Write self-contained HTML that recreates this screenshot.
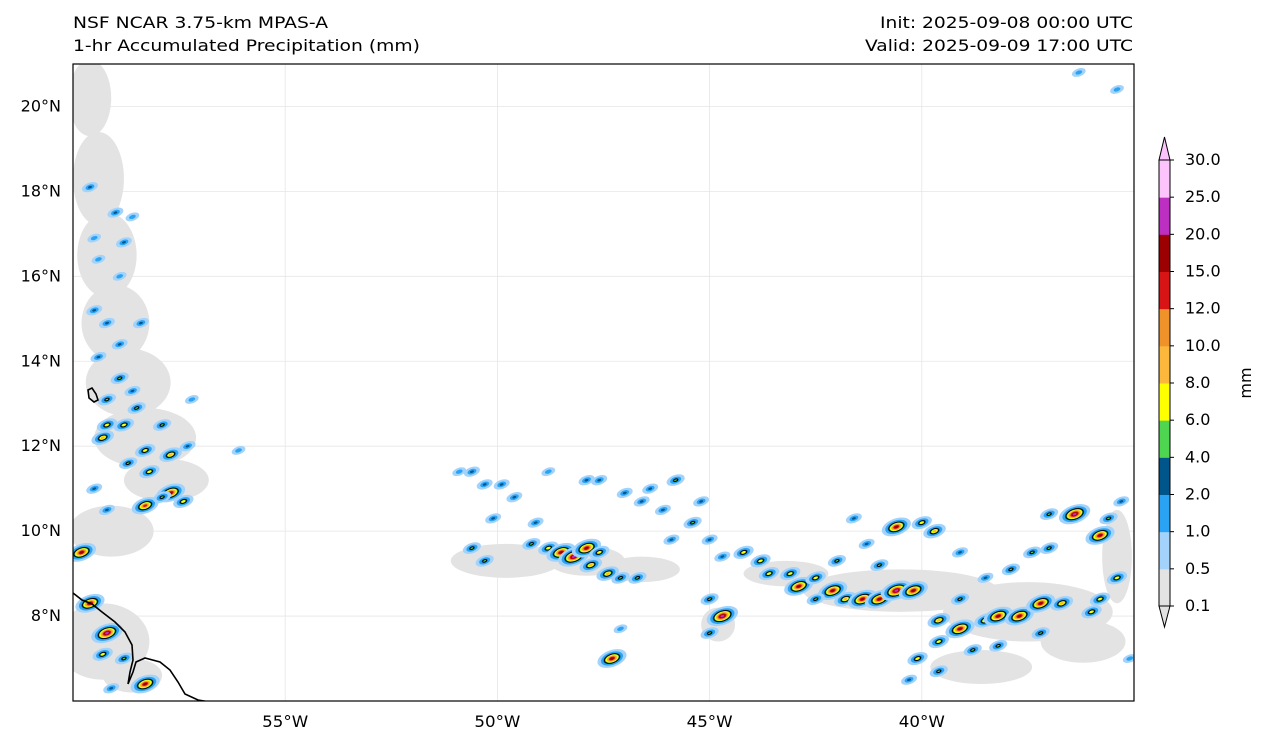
<!DOCTYPE html>
<html><head><meta charset="utf-8"><style>
body{margin:0;background:#fff;}
svg{display:block;font-family:"DejaVu Sans","Liberation Sans",sans-serif;}
</style></head><body>
<svg id="chart" width="1268" height="745">
<text x="73" y="28" font-size="16" textLength="255" lengthAdjust="spacingAndGlyphs">NSF NCAR 3.75-km MPAS-A</text>
<text x="73" y="51" font-size="16" textLength="347" lengthAdjust="spacingAndGlyphs">1-hr Accumulated Precipitation (mm)</text>
<text x="1133" y="28" font-size="16" text-anchor="end" textLength="253" lengthAdjust="spacingAndGlyphs">Init: 2025-09-08 00:00 UTC</text>
<text x="1133" y="51" font-size="16" text-anchor="end" textLength="268" lengthAdjust="spacingAndGlyphs">Valid: 2025-09-09 17:00 UTC</text>
<defs><clipPath id="mc"><rect x="73" y="64" width="1061" height="637"/></clipPath></defs>
<g id="grid"></g>
<g id="gray" clip-path="url(#mc)"></g>
<g id="cells" clip-path="url(#mc)"></g>
<g clip-path="url(#mc)">
<path d="M73,593 L82,600 L92,604 L102,612 L115,622 L125,632 L132,645 L133,660 L130,672 L128,684 L133,672 L136,662 L145,658 L160,662 L170,670 L178,682 L185,694 L198,700 L210,702" fill="none" stroke="#000" stroke-width="1.6"/>
<path d="M88,390 L92,388 L96,394 L98,400 L94,402 L89,398 Z" fill="none" stroke="#000" stroke-width="1.6"/>
</g>
<rect x="73" y="64" width="1061" height="637" fill="none" stroke="#000" stroke-width="1.2"/>
<g id="axes" font-size="16"></g>
<g id="cbar"></g>
<text x="1251" y="383" font-size="16" text-anchor="middle" transform="rotate(-90 1251 383)">mm</text>
</svg>
<script>
const lonTicks=[-55,-50,-45,-40];
const lonLabels=["55°W","50°W","45°W","40°W"];
const latTicks=[8,10,12,14,16,18,20];
const latLabels=["8°N","10°N","12°N","14°N","16°N","18°N","20°N"];
const levels=["0.1","0.5","1.0","2.0","4.0","6.0","8.0","10.0","12.0","15.0","20.0","25.0","30.0"];
const colors=["#e3e3e3","#a3d3fb","#2ba3f5","#00558a","#4fd651","#ffff00","#fbb83a","#f0922a","#d81414","#9c0000","#bd2fc0","#fdc3fd"];
const cellLon=[-59.6,-59.0,-59.5,-58.8,-58.6,-59.4,-58.9,-59.5,-59.2,-58.4,-58.9,-59.4,-58.9,-58.6,-59.2,-58.5,-59.2,-58.8,-57.9,-59.3,-58.3,-57.7,-58.7,-58.2,-57.3,-57.7,-57.4,-58.3,-57.9,-59.5,-59.2,-59.8,-59.6,-59.2,-59.3,-58.8,-58.3,-59.1,-56.1,-57.2,
-50.9,-50.6,-50.3,-49.9,-49.6,-50.1,-49.1,-50.6,-50.3,-49.2,-48.8,-48.5,-48.2,-47.9,-47.6,-47.8,-47.4,-47.1,-46.7,-48.8,-47.9,-47.6,-47.0,-46.6,-46.4,-45.8,-46.1,-45.4,-45.2,-45.0,-45.9,-44.7,-44.7,-45.0,-45.0,-47.3,-47.1,
-44.2,-43.8,-43.6,-43.1,-42.9,-42.5,-42.1,-41.8,-41.4,-41.0,-40.6,-40.2,-41.0,-40.6,-40.0,-39.7,-39.1,-39.1,-38.5,-37.9,-37.4,-37.0,-36.4,-37.0,-35.8,-35.6,-35.3,-35.4,-35.8,-39.6,-39.1,-38.5,-38.2,-37.7,-37.2,-36.7,-36.0,-39.6,-40.1,-38.8,-38.2,-37.2,-39.6,-40.3,-41.6,-41.3,-42.0,-42.5,-36.3,-35.4,-35.1];
const cellLat=[18.1,17.5,16.9,16.8,17.4,16.4,16.0,15.2,14.9,14.9,14.4,14.1,13.6,13.3,13.1,12.9,12.5,12.5,12.5,12.2,11.9,11.8,11.6,11.4,12.0,10.9,10.7,10.6,10.8,11.0,10.5,9.5,8.3,7.6,7.1,7.0,6.4,6.3,11.9,13.1,
11.4,11.4,11.1,11.1,10.8,10.3,10.2,9.6,9.3,9.7,9.6,9.5,9.4,9.6,9.5,9.2,9.0,8.9,8.9,11.4,11.2,11.2,10.9,10.7,11.0,11.2,10.5,10.2,10.7,9.8,9.8,9.4,8.0,7.6,8.4,7.0,7.7,
9.5,9.3,9.0,9.0,8.7,8.9,8.6,8.4,8.4,8.4,8.6,8.6,9.2,10.1,10.2,10.0,9.5,8.4,8.9,9.1,9.5,9.6,10.4,10.4,9.9,10.3,10.7,8.9,8.4,7.9,7.7,7.9,8.0,8.0,8.3,8.3,8.1,7.4,7.0,7.2,7.3,7.6,6.7,6.5,10.3,9.7,9.3,8.4,20.8,20.4,7.0];
const cellMax=[3,3,2,3,2,2,2,3,3,3,3,3,4,3,4,4,5,5,4,6,5,6,4,5,3,9,5,8,4,3,3,9,9,10,5,4,9,3,2,2,
2,3,3,3,3,3,3,4,4,4,5,9,10,9,5,6,6,4,4,2,3,3,3,3,3,4,3,4,3,3,3,3,10,4,4,9,2,
5,5,5,5,9,5,9,6,9,9,10,9,4,9,5,6,3,4,3,4,4,4,10,4,9,4,3,5,5,6,9,6,9,9,9,6,5,5,5,4,4,4,4,3,3,3,4,4,2,2,2];
const grayLon=[-59.6,-59.4,-59.2,-59.0,-58.7,-58.3,-57.8,-59.1,-59.3,-58.6,-49.8,-47.9,-46.6,-40.5,-37.5,-38.6,-35.4,-44.8,-43.2,-36.2];
const grayLat=[20.2,18.3,16.5,14.9,13.5,12.2,11.2,10.0,7.4,6.6,9.3,9.3,9.1,8.6,8.1,6.8,9.4,7.8,9.0,7.4];
const grayRx=[0.5,0.6,0.7,0.8,1.0,1.2,1.0,1.0,1.1,0.7,1.3,0.9,0.9,2.3,2.0,1.2,0.35,0.4,1.0,1.0];
const grayRy=[0.9,1.1,1.0,0.9,0.8,0.7,0.5,0.6,0.9,0.4,0.4,0.35,0.3,0.5,0.7,0.4,1.1,0.4,0.3,0.5];
const NS="http://www.w3.org/2000/svg";
const X0=73,Y0=64,W=1061,H=637,LON0=-60,LON1=-35,LAT0=6,LAT1=21;
function xs(lon){return X0+(lon-LON0)/(LON1-LON0)*W;}
function ys(lat){return Y0+(LAT1-lat)/(LAT1-LAT0)*H;}
const kx=W/(LON1-LON0),ky=H/(LAT1-LAT0);
function mk(tag,attrs,parent){const e=document.createElementNS(NS,tag);for(const k in attrs)e.setAttribute(k,attrs[k]);parent.appendChild(e);return e;}
const grid=document.getElementById('grid'),axes=document.getElementById('axes');
lonTicks.forEach((v,i)=>{
 const l=mk('line',{x1:xs(v),x2:xs(v),y1:Y0,y2:Y0+H,stroke:'#e6e6e6','stroke-width':0.8},grid);
 
 
 const t=mk('text',{x:xs(v),y:727,'text-anchor':'middle',textLength:46,lengthAdjust:'spacingAndGlyphs'},axes);t.textContent=lonLabels[i];
 
 
});
latTicks.forEach((v,i)=>{
 const l=mk('line',{x1:X0,x2:X0+W,y1:ys(v),y2:ys(v),stroke:'#e6e6e6','stroke-width':0.8},grid);
 
 
 const t=mk('text',{x:61,y:ys(v)+5,'text-anchor':'end'},axes);t.textContent=latLabels[i];
 
 
});
const gray=document.getElementById('gray');
grayLon.forEach((v,i)=>{
 const e=mk('ellipse',{cx:xs(v),cy:ys(grayLat[i]),rx:grayRx[i]*kx,ry:grayRy[i]*ky,fill:colors[0]},gray);
 
 
});
const cells=document.getElementById('cells');
cellLon.forEach((v,i)=>{
 const L=cellMax[i],cx=xs(v),cy=ys(cellLat[i]);
 const g=mk('g',{transform:`translate(${cx},${cy}) rotate(-20)`},cells);
 
 
 for(let k=1;k<=L;k++){
  const r=2+(L-k)*1.15+(k===1?4:0)+(k===2?1.5:0);
  const a={cx:0,cy:0,rx:r,ry:r*0.55,fill:colors[k]};
  if(k===4){a.stroke='#000';a['stroke-width']=0.9;}
  mk('ellipse',a,g);
 }
});
const cb=document.getElementById('cbar');
const cbX=1159,cbW=11,cbTop=160,cbBot=606,step=(cbBot-cbTop)/12;
colors.forEach((c,i)=>{
 const r=mk('rect',{x:cbX,y:cbBot-(i+1)*step,width:cbW,height:step+0.5,fill:c},cb);
 
 
});
mk('path',{d:`M${cbX},${cbBot} L${cbX+cbW/2},${cbBot+21} L${cbX+cbW},${cbBot} Z`,fill:colors[0],stroke:'#000','stroke-width':1},cb);
mk('path',{d:`M${cbX},${cbTop} L${cbX+cbW/2},${cbTop-23} L${cbX+cbW},${cbTop} Z`,fill:colors[11],stroke:'#000','stroke-width':1},cb);
mk('rect',{x:cbX,y:cbTop,width:cbW,height:cbBot-cbTop,fill:'none',stroke:'#000','stroke-width':1},cb);
levels.forEach((s,i)=>{
 const y=cbBot-i*step;
 mk('line',{x1:cbX+cbW,x2:cbX+cbW+4,y1:y,y2:y,stroke:'#000'},cb);
 const t=mk('text',{x:1185,y:y+5,'font-size':16},cb);t.textContent=s;
 
 
});
</script>
</body></html>
